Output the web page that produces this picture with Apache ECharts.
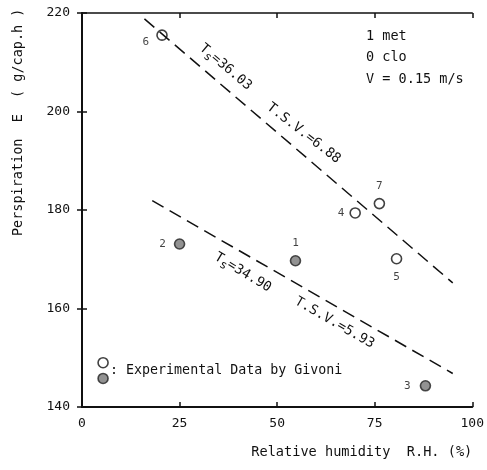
<!DOCTYPE html>
<html><head><meta charset="utf-8">
<script src="https://cdn.jsdelivr.net/npm/echarts@6/dist/echarts.min.js"></script>
<style>html,body{margin:0;padding:0;background:#fff}#c{width:487px;height:470px}</style>
</head><body><div id="c"></div>
<script>
// ---- data ----
const xTicks = [0, 25, 50, 75, 100];
const yTicks = [140, 160, 180, 200, 220];
const openIds = ['6', '7', '4', '5'];
const openX = [20.5, 76.2, 70.0, 80.6];
const openY = [215.5, 181.3, 179.4, 170.1];
const filledIds = ['2', '1', '3'];
const filledX = [25.0, 54.7, 88.0];
const filledY = [173.1, 169.7, 144.3];
const upperLineX = [16, 95];
const upperLineY = [218.8, 165.2];
const lowerLineX = [18, 95];
const lowerLineY = [181.9, 146.8];
const legendX = [5.4, 5.4];
const legendY = [149.0, 145.8];
const conditions = ['1 met', '0 clo', 'V = 0.15 m/s'];

const FONT = 'DejaVu Sans Mono';
const labelPos = {'6':{position:'left',offset:[-2,7]}, '7':{position:'top',offset:[0,-1]}, '4':{position:'left',offset:[0,0]}, '5':{position:'bottom',offset:[0,2]}, '2':{position:'left',offset:[-3,0]}, '1':{position:'top',offset:[0,-1]}, '3':{position:'left',offset:[-4,0]}};

function pts(xs, ys){ return xs.map((x,i)=>[x, ys[i]]); }
function ptsLabeled(xs, ys, ids){
  return xs.map((x,i)=>({value:[x, ys[i]], label:Object.assign({show:true, formatter:ids[i]}, labelPos[ids[i]])}));
}

const chart = echarts.init(document.getElementById('c'));
const axisCommon = {
  axisLine:{show:true, lineStyle:{color:'#111', width:2}},
  axisTick:{show:true, inside:true, length:5, lineStyle:{color:'#111', width:1.5}},
  splitLine:{show:false}
};
const option = {
  animation:false,
  backgroundColor:'#fff',
  textStyle:{fontFamily:FONT},
  grid:{left:82, right:14, top:13, bottom:63, show:false},
  xAxis:[
    Object.assign({type:'value', min:0, max:100, interval:25, position:'bottom',
      axisLabel:{color:'#111', fontSize:13, fontFamily:FONT, margin:10},
      name:'Relative humidity  R.H. (%)', nameLocation:'end', nameGap:0,
      nameTextStyle:{color:'#111', fontSize:13.6, fontFamily:FONT, align:'right', verticalAlign:'top', padding:[38,0,0,0]}
    }, axisCommon),
    Object.assign({type:'value', min:0, max:100, interval:25, position:'top', axisLabel:{show:false}}, axisCommon,
      {axisLine:{show:true, lineStyle:{color:'#111', width:1.5}}})
  ],
  yAxis:[
    Object.assign({type:'value', min:140, max:220, interval:20, position:'left',
      axisLabel:{color:'#111', fontSize:13, fontFamily:FONT, margin:12}}, axisCommon),
    Object.assign({type:'value', min:140, max:220, interval:20, position:'right', axisLabel:{show:false}}, axisCommon,
      {axisLine:{show:true, lineStyle:{color:'#111', width:1.5}}})
  ],
  series:[
    {type:'line', data:pts(upperLineX, upperLineY), symbol:'none', lineStyle:{color:'#111', width:1.5, type:[13,7]}},
    {type:'line', data:pts(lowerLineX, lowerLineY), symbol:'none', lineStyle:{color:'#111', width:1.5, type:[13,7]}},
    {type:'scatter', data:ptsLabeled(openX, openY, openIds), symbol:'circle', symbolSize:10,
      itemStyle:{color:'#fff', borderColor:'#111', borderWidth:1.6},
      label:{color:'#111', fontSize:11, fontFamily:FONT}},
    {type:'scatter', data:ptsLabeled(filledX, filledY, filledIds), symbol:'circle', symbolSize:10,
      itemStyle:{color:'#777', borderColor:'#222', borderWidth:1.6},
      label:{color:'#111', fontSize:11, fontFamily:FONT}},
    {type:'scatter', data:[legendX[0]].map(x=>[x, legendY[0]]), symbol:'circle', symbolSize:10,
      itemStyle:{color:'#fff', borderColor:'#111', borderWidth:1.6}},
    {type:'scatter', data:[legendX[1]].map(x=>[x, legendY[1]]), symbol:'circle', symbolSize:10,
      itemStyle:{color:'#777', borderColor:'#222', borderWidth:1.6}}
  ]
};
chart.setOption(option);

function px(x, y){ return chart.convertToPixel({xAxisIndex:0, yAxisIndex:0}, [x, y]); }
const ts = {fontFamily:FONT, fontSize:13.5, fill:'#111'};
function rotText(x, y, text, deg, rich){
  const p = px(x, y);
  return {type:'text', x:p[0], y:p[1], rotation:-deg*Math.PI/180,
    style:Object.assign({}, ts, {text:text, align:'center', verticalAlign:'middle', rich:rich})};
}
const rich = {sub:{fontFamily:FONT, fontSize:11.5, fill:'#111', verticalAlign:'bottom', padding:[8,0,0,0]}, n:{fontFamily:FONT, fontSize:13.5, fill:'#111'}};
const yMid = px(0, 197.8)[1];
const graphics = [
  {type:'text', x:18, y:yMid, rotation:Math.PI/2,
    style:Object.assign({}, ts, {text:'Perspiration  E  ( g/cap.h )', align:'center', verticalAlign:'middle'})},
  rotText(36.8, 209.0, '{n|T}{sub|s}{n|=36.03}', 40, rich),
  rotText(56.8, 195.6, 'T.S.V.=6.88', 38, rich),
  rotText(41.2, 167.3, '{n|T}{sub|s}{n|=34.90}', 31, rich),
  rotText(64.7, 157.1, 'T.S.V.=5.93', 30, rich),
];
const lg = px(legendX[0], (legendY[0]+legendY[1])/2);
graphics.push({type:'text', x:lg[0]+7, y:lg[1], style:Object.assign({}, ts, {fontSize:13.3, text:': Experimental Data by Givoni', align:'left', verticalAlign:'middle'})});
conditions.forEach((t,i)=>{
  const p = px(72.8, 215.3 - i*4.4);
  graphics.push({type:'text', x:p[0], y:p[1], style:Object.assign({}, ts, {text:t, align:'left', verticalAlign:'middle'})});
});
chart.setOption({graphic:graphics});
</script></body></html>
